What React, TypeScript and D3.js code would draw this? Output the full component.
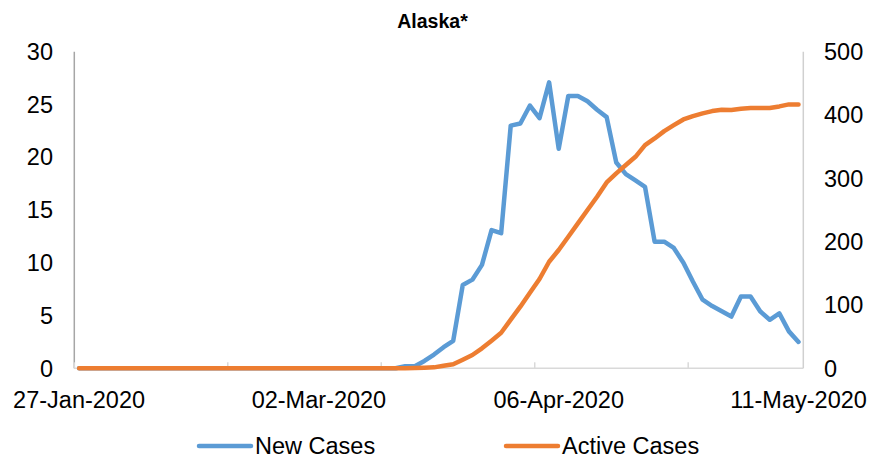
import React from "react";
import * as d3 from "d3";

// Categories: trading days (weekdays) from 27-Jan-2020 to 11-May-2020
const startDate = new Date(2020, 0, 27);
const endDate = new Date(2020, 4, 12);
const categories: Date[] = d3.timeDays(startDate, endDate).filter((d) => d.getDay() !== 0 && d.getDay() !== 6);

const newCases: number[] = [
  0, 0, 0, 0, 0, 0, 0, 0, 0, 0,
  0, 0, 0, 0, 0, 0, 0, 0, 0, 0,
  0, 0, 0, 0, 0, 0, 0, 0, 0, 0,
  0, 0, 0, 0, 0.2, 0.2, 0.7, 1.3, 2.0, 2.6,
  7.9, 8.4, 9.8, 13.1, 12.8, 23.0, 23.2, 24.9, 23.7, 27.1,
  20.8, 25.8, 25.8, 25.3, 24.5, 23.8, 19.5, 18.4, 17.8, 17.2,
  12.0, 12.0, 11.4, 10.0, 8.2, 6.5, 5.9, 5.4, 4.9, 6.8,
  6.8, 5.4, 4.6, 5.2, 3.5, 2.5,
];

const activeCases: number[] = [
  0, 0, 0, 0, 0, 0, 0, 0, 0, 0,
  0, 0, 0, 0, 0, 0, 0, 0, 0, 0,
  0, 0, 0, 0, 0, 0, 0, 0, 0, 0,
  0, 0, 0, 0, 0, 0.5, 1, 1.5, 4, 6.3,
  13.6, 21, 31.5, 43.6, 56.2, 76.8, 97.3, 119.4, 141, 168.3,
  186.8, 207.8, 228.9, 250, 271, 293.6, 307.9, 321, 334, 352.5,
  363, 374.6, 384, 393, 398.3, 402.6, 406.2, 408.3, 407.8, 409.9,
  411, 411, 411, 413.6, 416.8, 416.8,
];

const leftTicks: number[] = [0, 5, 10, 15, 20, 25, 30];
const rightTicks: number[] = [0, 100, 200, 300, 400, 500];
const seriesNames: string[] = ["New Cases", "Active Cases"];
const title = "Alaska*";

const labelEvery = 25;
const tickEvery = 16;

const W = 872;
const H = 459;
const margin = { left: 74.3, right: 872 - 803.3, top: 51.7, bottom: 459 - 368.3 };
const BLUE = "#5B9BD5";
const ORANGE = "#ED7D31";
const FONT = "'Liberation Sans', Arial, sans-serif";

export default function App() {
  const x = d3
    .scaleBand<number>()
    .domain(categories.map((_, i) => i))
    .range([margin.left, W - margin.right])
    .padding(0);
  const bw = x.bandwidth();
  const cx = (i: number) => (x(i) as number) + bw / 2;
  const yL = d3.scaleLinear().domain([0, 30]).range([H - margin.bottom, margin.top]);
  const yR = d3.scaleLinear().domain([0, 500]).range([H - margin.bottom, margin.top]);
  const fmt = d3.timeFormat("%d-%b-%Y");

  const lineL = d3
    .line<number>()
    .x((_, i) => cx(i))
    .y((d) => yL(d));
  const lineR = d3
    .line<number>()
    .x((_, i) => cx(i))
    .y((d) => yR(d));

  const x0 = margin.left;
  const x1 = W - margin.right;
  const yb = H - margin.bottom;
  const yt = margin.top;

  const tickIdx = d3.range(0, categories.length, tickEvery);
  const labelIdx = d3.range(0, categories.length, labelEvery);

  return (
    <svg
      width={W}
      height={H}
      style={{ position: "absolute", left: 0, top: 0, background: "#fff" }}
      fontFamily={FONT}
    >
      <rect x={0} y={0} width={W} height={H} fill="#fff" />
      <text x={432.5} y={28} textAnchor="middle" fontWeight="bold" fontSize={19.5} fill="#000">
        {title}
      </text>

      {/* axes */}
      <line x1={x0} x2={x1} y1={yb} y2={yb} stroke="#d9d9d9" strokeWidth={1.5} />
      <line x1={x1} x2={x1} y1={yt} y2={yb} stroke="#d0d0d0" strokeWidth={1.5} />
      <line x1={x0} x2={x0} y1={yt} y2={yb} stroke="#a6a6a6" strokeWidth={1.5} />
      {tickIdx.map((i) => (
        <line key={i} x1={x(i) as number} x2={x(i) as number} y1={yb} y2={yb - 6} stroke="#d9d9d9" strokeWidth={1.5} />
      ))}

      {leftTicks.map((t) => (
        <text key={t} x={53} y={yL(t)} dy="0.35em" textAnchor="end" fontSize={23.5} fill="#000">
          {t}
        </text>
      ))}
      {rightTicks.map((t) => (
        <text key={t} x={824} y={yR(t)} dy="0.35em" textAnchor="start" fontSize={23.5} fill="#000">
          {t}
        </text>
      ))}
      {labelIdx.map((i) => (
        <text key={i} x={cx(i)} y={408} textAnchor="middle" fontSize={23.5} fill="#000">
          {fmt(categories[i])}
        </text>
      ))}

      <path d={lineL(newCases) as string} fill="none" stroke={BLUE} strokeWidth={4.5} strokeLinejoin="round" strokeLinecap="round" />
      <path d={lineR(activeCases) as string} fill="none" stroke={ORANGE} strokeWidth={4.5} strokeLinejoin="round" strokeLinecap="round" />

      {/* legend */}
      {seriesNames.map((name, k) => {
        const lx = k === 0 ? 199 : 506;
        const color = k === 0 ? BLUE : ORANGE;
        return (
          <g key={name}>
            <line x1={lx} x2={lx + 52} y1={446} y2={446} stroke={color} strokeWidth={4.5} strokeLinecap="round" />
            <text x={lx + 56} y={454} fontSize={23.5} fill="#000">
              {name}
            </text>
          </g>
        );
      })}
    </svg>
  );
}
